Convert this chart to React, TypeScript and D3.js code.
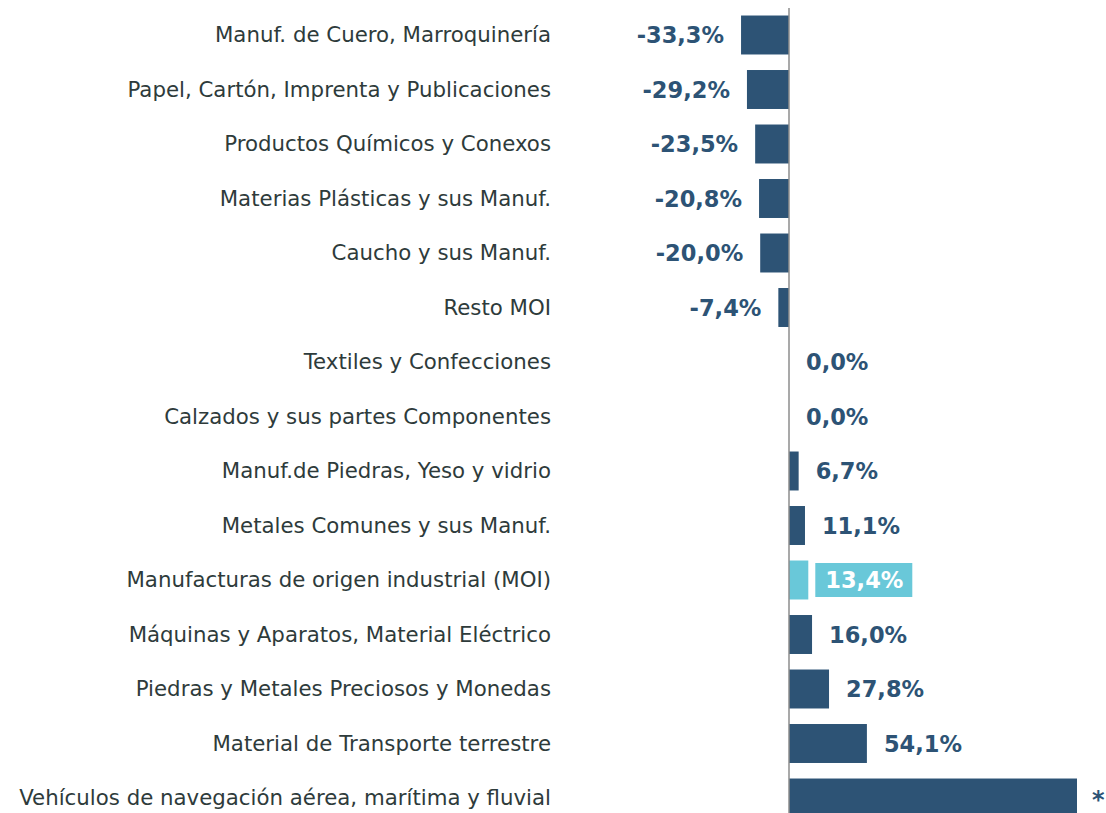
import React, { useEffect, useRef } from 'react'
import * as d3 from 'd3'

const categories = [
  'Manuf. de Cuero, Marroquinería',
  'Papel, Cartón, Imprenta y Publicaciones',
  'Productos Químicos y Conexos',
  'Materias Plásticas y sus Manuf.',
  'Caucho y sus Manuf.',
  'Resto MOI',
  'Textiles y Confecciones',
  'Calzados y sus partes Componentes',
  'Manuf.de Piedras, Yeso y vidrio',
  'Metales Comunes y sus Manuf.',
  'Manufacturas de origen industrial (MOI)',
  'Máquinas y Aparatos, Material Eléctrico',
  'Piedras y Metales Preciosos y Monedas',
  'Material de Transporte terrestre',
  'Vehículos de navegación aérea, marítima y fluvial',
]
const values = [-33.3, -29.2, -23.5, -20.8, -20.0, -7.4, 0.0, 0.0, 6.7, 11.1, 13.4, 16.0, 27.8, 54.1, 200]
const labels = ['-33,3%', '-29,2%', '-23,5%', '-20,8%', '-20,0%', '-7,4%', '0,0%', '0,0%', '6,7%', '11,1%', '13,4%', '16,0%', '27,8%', '54,1%', '*']
const highlight = 'Manufacturas de origen industrial (MOI)'

const W = 1106
const H = 813
const DARK = '#2d5375'
const LIGHT = '#69c8d9'
const FONT = 'DejaVu Sans, Verdana, sans-serif'

function App() {
  const ref = useRef<SVGSVGElement>(null)

  useEffect(() => {
    const svg = d3.select(ref.current)
    svg.selectAll('*').remove()

    const y = d3.scaleBand<string>()
      .domain(categories)
      .range([7.75, 825.25])
      .paddingInner(0.285)
      .paddingOuter(0.1425)
    const x = d3.scaleLinear().domain([-40, 200]).range([789 - 57.6, 789 + 288])

    const rows = categories.map((c, i) => ({ c, v: values[i], l: labels[i] }))

    // category names
    svg.append('g')
      .selectAll('text')
      .data(rows)
      .join('text')
      .attr('x', 551)
      .attr('y', d => y(d.c)! + y.bandwidth() / 2)
      .attr('dy', '0.35em')
      .attr('text-anchor', 'end')
      .attr('font-family', FONT)
      .attr('font-size', 21.3)
      .attr('fill', '#2e3b3b')
      .text(d => d.c)

    // bars
    svg.append('g')
      .selectAll('rect')
      .data(rows)
      .join('rect')
      .attr('x', d => x(Math.min(0, d.v)))
      .attr('y', d => y(d.c)!)
      .attr('width', d => Math.abs(x(d.v) - x(0)))
      .attr('height', y.bandwidth())
      .attr('fill', d => (d.c === highlight ? LIGHT : DARK))

    // axis line
    svg.append('line')
      .attr('x1', x(0)).attr('x2', x(0))
      .attr('y1', 8).attr('y2', H)
      .attr('stroke', '#8c8c8c')
      .attr('stroke-width', 1.5)

    // value labels
    const lab = svg.append('g')
    rows.forEach(d => {
      const cy = y(d.c)! + y.bandwidth() / 2
      if (d.l === '*') {
        lab.append('text')
          .attr('x', 1092)
          .attr('y', cy)
          .attr('dy', '0.4em')
          .attr('font-family', FONT)
          .attr('font-weight', 'bold')
          .attr('font-size', 24)
          .attr('fill', DARK)
          .text('*')
        return
      }
      const neg = d.v < 0
      const tx = neg ? x(d.v) - 17 : x(d.v) + 17
      if (d.c === highlight) {
        lab.append('rect')
          .attr('x', tx - 10)
          .attr('y', cy - 17)
          .attr('width', 97)
          .attr('height', 34)
          .attr('fill', LIGHT)
      }
      lab.append('text')
        .attr('x', tx)
        .attr('y', cy)
        .attr('dy', '0.36em')
        .attr('text-anchor', neg ? 'end' : 'start')
        .attr('font-family', FONT)
        .attr('font-weight', 'bold')
        .attr('font-size', 22.5)
        .attr('fill', d.c === highlight ? '#ffffff' : DARK)
        .text(d.l)
    })
  }, [])

  return (
    <svg ref={ref} width={W} height={H} style={{ position: 'absolute', left: 0, top: 0, background: '#fff' }} />
  )
}

export default App
